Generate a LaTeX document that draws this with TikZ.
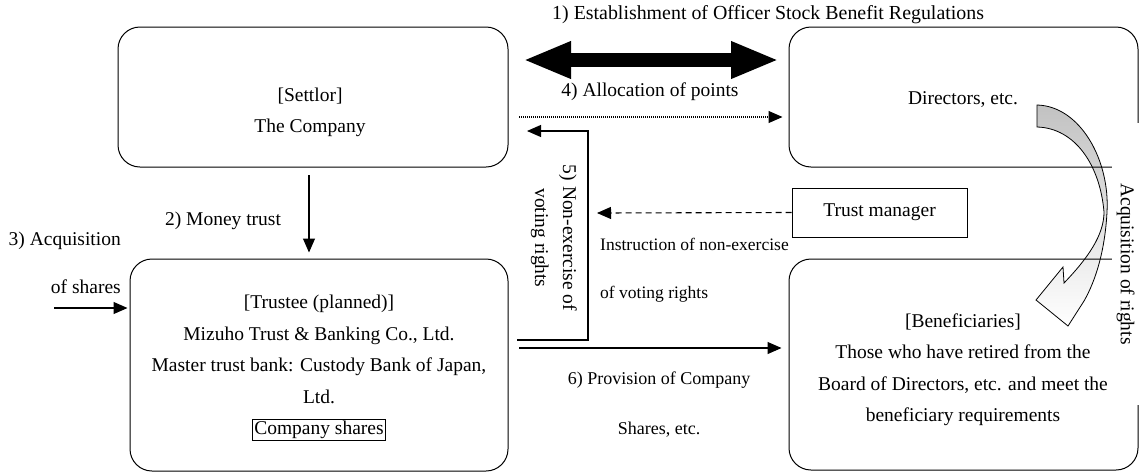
\documentclass[tikz,border=0pt]{standalone}
\usepackage{fontspec}
\setmainfont{Liberation Serif}
\usetikzlibrary{arrows.meta}
\begin{document}
\begin{tikzpicture}[x=1pt,y=-1pt,
  every node/.style={font=\fontsize{19.5}{31.5}\selectfont, inner sep=0pt},
  rbox/.style={draw, line width=1pt, rounded corners=22pt},
  sbox/.style={draw, line width=1pt},
  small/.style={font=\fontsize{17.5}{48}\selectfont},
  arr/.style={line width=1.1pt, -{Triangle[length=14pt,width=12pt]}},
  bigarr/.style={line width=14pt, {Triangle[length=48pt,width=34pt]}-{Triangle[length=48pt,width=34pt]}}]
\useasboundingbox (0,0) rectangle (1139,472);

% curved arrow (drawn first, box lines go over it)
\shade[top color=black!24, middle color=black!14, bottom color=white, draw=black, line width=0.8pt]
  (1037,105) .. controls (1080,106) and (1110,160) .. (1107,212)
  .. controls (1105,250) and (1096,280) .. (1084,301)
  -- (1068,326) -- (1036,300) -- (1063,267) -- (1064,283)
  .. controls (1088,258) and (1104,235) .. (1104,212)
  .. controls (1100,165) and (1075,128) .. (1037,127) -- cycle;

% boxes
\node[rbox, minimum width=390, minimum height=140] (settlor) at (313,97) {};
\node[rbox, minimum width=349, minimum height=140] (directors) at (963.5,97) {};
\node[rbox, minimum width=378, minimum height=212] (trustee) at (319,365) {};
\node[rbox, minimum width=349, minimum height=211] (benef) at (963.5,364.5) {};
\node[sbox, minimum width=175, minimum height=49] (trustmgr) at (879.5,212.5) {Trust manager};

% box texts
\node[align=center] (settlortxt) at (310,112.5) {[Settlor]\\The Company};
\node (directorstxt) at (963,100) {Directors, etc.};
\node[align=center] (trusteetxt) at (319,368) {[Trustee (planned)]\\Mizuho Trust \& Banking Co., Ltd.\\Master trust bank: Custody Bank of Japan,\\Ltd.\\{\setlength{\fboxsep}{1pt}\setlength{\fboxrule}{0.8pt}\fbox{Company shares}}};
\node[align=center] (beneftxt) at (963,369.5) {[Beneficiaries]\\Those who have retired from the\\Board of Directors, etc. and meet the\\beneficiary requirements};

% 1) double arrow
\coordinate (da1) at (523,60);
\coordinate (da2) at (779,60);
\draw[bigarr] (da1) -- (da2);
\node[anchor=west, font=\fontsize{19.9}{24}\selectfont] (l1) at (552,15) {1) Establishment of Officer Stock Benefit Regulations};

% 4) allocation of points
\node (l4) at (650,92) {4) Allocation of points};
\coordinate (a4) at (519,117);
\draw[arr, dash pattern=on 1pt off 1pt] (a4) -- ([xshift=-6pt]directors.west |- a4);

% 2) money trust
\coordinate (m1) at (309,175);
\draw[arr] (m1) -- ([yshift=6pt]m1 |- trustee.north);
\node (l2) at (223,221) {2) Money trust};

% 3) acquisition of shares
\node[align=right, anchor=east, font=\fontsize{19.5}{48}\selectfont] (l3) at (121,263) {3) Acquisition\\of shares};
\coordinate (q1) at (54,308);
\draw[arr] (q1) -- ([xshift=-2pt]q1 -| trustee.west);

% 5) non-exercise of voting rights
\coordinate (v1) at (517,340);
\coordinate (v2) at (527,131);
\draw[arr] (v1) -- (588,340) -- (588,131) -- (v2);
\node[rotate=-90, align=center, font=\fontsize{19.5}{28}\selectfont] (l5) at (554,238) {5) Non-exercise of\\voting rights};

% instruction of non-exercise
\coordinate (i1) at (597,213);
\draw[arr, dash pattern=on 6pt off 4pt] (trustmgr.west) -- (i1);
\node[small, align=left, anchor=west] (li) at (600,270) {Instruction of non-exercise\\of voting rights};

% 6) provision
\coordinate (p1) at (519,348);
\draw[arr] (p1) -- ([xshift=-7pt]benef.west |- p1);
\node[align=center, font=\fontsize{18}{50}\selectfont] (l6) at (659,405) {6) Provision of Company\\Shares, etc.};

% acquisition of rights
\node[rotate=-90, fill=white, minimum width=282, minimum height=27] (lr) at (1125.5,264) {Acquisition of rights};
\end{tikzpicture}
\end{document}
